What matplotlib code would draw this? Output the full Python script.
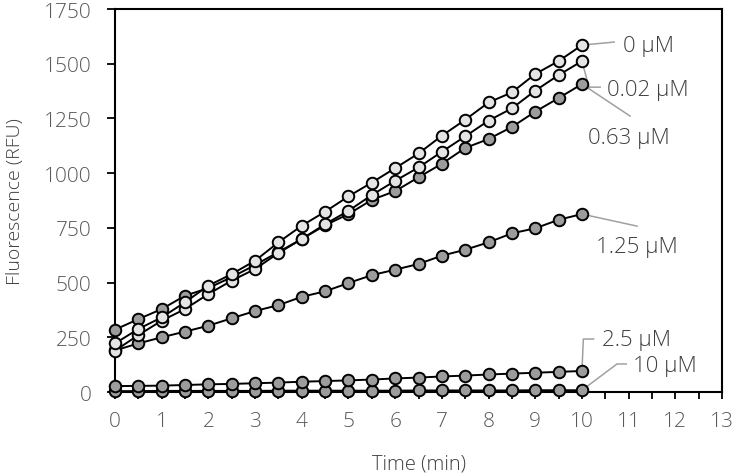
import numpy as np
import matplotlib
matplotlib.use("Agg")
import matplotlib.pyplot as plt
from matplotlib import font_manager

# prefer a light weight of a humanist sans (closest to the original's look)
family = 'Open Sans'
weight = 'normal'
for name in ['Open Sans', 'Lato', 'Noto Sans', 'Roboto', 'Inter']:
    if any(f.name == name and f.weight in (300, 'light') for f in font_manager.fontManager.ttflist):
        family, weight = name, 'light'
        break
plt.rcParams['font.family'] = [family, 'DejaVu Sans']
plt.rcParams['font.weight'] = weight

# time points (min)
time = np.arange(0, 10.5, 0.5)

# fluorescence readings (RFU) per inhibitor concentration
rfu_0 = [222, 288, 341, 410, 486, 539, 600, 684, 760, 824, 894,
         957, 1023, 1090, 1171, 1244, 1323, 1369, 1453, 1512, 1585]
rfu_002 = [189, 260, 326, 379, 448, 509, 562, 635, 699, 767, 828,
           900, 965, 1026, 1098, 1168, 1240, 1296, 1377, 1448, 1512]
rfu_063 = [285, 333, 379, 440, 475, 525, 580, 640, 699, 762, 813,
           878, 918, 981, 1043, 1115, 1156, 1211, 1281, 1343, 1407]
rfu_125 = [190, 222, 250, 276, 303, 337, 370, 397, 435, 460, 498,
           534, 559, 585, 623, 650, 684, 725, 748, 787, 813]
rfu_25 = [27, 28, 29, 32, 35, 37, 40, 43, 47, 50, 53,
          57, 62, 66, 71, 75, 80, 84, 88, 92, 96]
rfu_10 = [4, 4, 5, 5, 5, 5, 5, 6, 6, 6, 6,
          6, 6, 7, 7, 7, 7, 7, 8, 8, 8]

labels = ['0 µM', '0.02 µM', '0.63 µM', '1.25 µM', '2.5 µM', '10 µM']
series = [rfu_0, rfu_002, rfu_063, rfu_125, rfu_25, rfu_10]
fills = ['#e4e4e4', '#e4e4e4', '#9c9c9c', '#9c9c9c', '#9c9c9c', '#9c9c9c']

fig = plt.figure(figsize=(7.36, 4.77), dpi=100)
ax = fig.add_axes([0.1563, 0.1761, 0.8247, 0.8029])

# draw bottom series first so the upper ones sit on top
for vals, fc in reversed(list(zip(series, fills))):
    ax.plot(time, vals, color='black', lw=1.4, marker='o', markersize=8.3,
            markerfacecolor=fc, markeredgecolor='black', markeredgewidth=1.4,
            clip_on=False, zorder=3)

ax.set_xlim(0, 13)
ax.set_ylim(0, 1750)
xt = np.arange(0, 13.5, 0.5)
ax.set_xticks(xt)
ax.set_xticklabels([str(int(v)) if v == int(v) else '' for v in xt])
ax.set_yticks(np.arange(0, 1751, 250))

for s in ax.spines.values():
    s.set_linewidth(1.5)
    s.set_color('black')
ax.tick_params(axis='both', direction='out', length=5, width=1.3,
               colors='black', labelcolor='#595959', labelsize=15)
ax.tick_params(axis='y', pad=11, length=6)
ax.tick_params(axis='x', pad=9)

fig.text(0.5687, 0.027, 'Time (min)', fontsize=14.5, color='#404040',
         ha='center', va='center')
fig.text(0.0205, 0.578, 'Fluorescence (RFU)', fontsize=14, color='#404040',
         ha='center', va='center', rotation=90)

# leader lines and labels at the end of each curve
lead = '#a0a0a0'
txt = dict(fontsize=16, color='#404040', va='center', ha='left')
ax.plot([10, 10.69], [rfu_0[-1], 1599], color=lead, lw=1.1, zorder=2, clip_on=False)
ax.text(10.88, 1585, labels[0], **txt)
ax.plot([10, 10.15, 10.39], [rfu_002[-1], 1393, 1393], color=lead, lw=1.1, zorder=2)
ax.text(10.54, 1384, labels[1], **txt)
ax.plot([10, 11.03], [rfu_063[-1], 1261], color=lead, lw=1.1, zorder=2)
ax.text(10.13, 1165, labels[2], **txt)
ax.plot([10, 11.18], [rfu_125[-1], 758], color=lead, lw=1.1, zorder=2)
ax.text(10.30, 667, labels[3], **txt)
ax.plot([10, 10.03, 10.25], [rfu_25[-1], 242, 242], color=lead, lw=1.1, zorder=2)
ax.text(10.43, 242, labels[4], **txt)
ax.plot([10, 10.75, 10.95], [rfu_10[-1], 128, 128], color=lead, lw=1.1, zorder=2)
ax.text(11.09, 119, labels[5], **txt)

fig.savefig('out.png', dpi=100)
